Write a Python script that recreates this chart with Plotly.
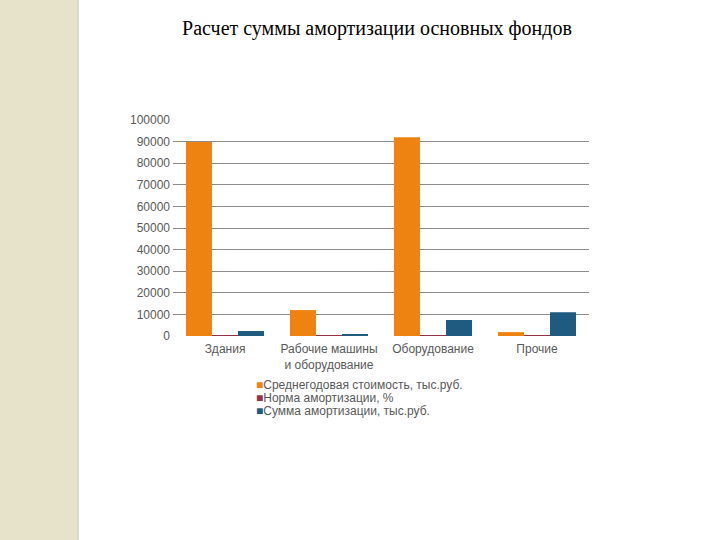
import plotly.graph_objects as go

categories = ["Здания", "Рабочие машины<br>и оборудование", "Оборудование", "Прочие"]
series_names = ["Среднегодовая стоимость, тыс.руб.", "Норма амортизации, %", "Сумма амортизации, тыс.руб."]
avg_cost = [89800, 12000, 92000, 1800]
norm_pct = [2.5, 6.7, 8.0, 10.0]
amort_sum = [2300, 800, 7400, 11000]
series_values = [avg_cost, norm_pct, amort_sum]
colors = ["#EE8311", "#953245", "#1F5A80"]
y_ticks = [0, 10000, 20000, 30000, 40000, 50000, 60000, 70000, 80000, 90000, 100000]
title_text = "Расчет суммы амортизации основных фондов"

W, H = 720, 540
L, R, T, B = 173, 589, 120, 336

def px_x(p):
    return (p - L) / (R - L)

def px_y(p):
    return (B - p) / (B - T)

fig = go.Figure()
for name, vals, col in zip(series_names, series_values, colors):
    fig.add_trace(go.Bar(x=categories, y=vals, name=name, marker_color=col,
                         marker_line_width=0, showlegend=False))

# invisible trace to carry the inner gridlines on an overlay axis
fig.add_trace(go.Scatter(x=categories, y=[None]*4, yaxis="y2", showlegend=False, hoverinfo="skip"))

fig.update_layout(
    width=W, height=H,
    margin=dict(l=L, r=W - R, t=T, b=H - B),
    paper_bgcolor="white", plot_bgcolor="rgba(0,0,0,0)",
    barmode="group", bargap=0.25, bargroupgap=0,
    font=dict(family="Liberation Sans, Arial", size=12, color="#595959"),
    title=dict(text=title_text, x=377 / W, xref="container", xanchor="center",
               y=1 - 28 / H, yref="container", yanchor="middle",
               font=dict(family="Liberation Serif, Times New Roman", size=20, color="black")),
    xaxis=dict(showgrid=False, showline=False, zeroline=False, ticks="",
               ticklabelstandoff=4,
               tickfont=dict(size=12, color="#595959")),
    yaxis=dict(range=[0, 100000], tickvals=y_ticks, ticktext=[str(v) for v in y_ticks],
               showgrid=False, zeroline=False, showline=False, ticks="",
               ticklabelstandoff=2,
               tickfont=dict(size=12, color="#595959")),
    yaxis2=dict(range=[0, 100000], overlaying="y", tickvals=y_ticks[1:-1],
                showticklabels=False, showgrid=True, gridcolor="#8C8C8C", gridwidth=1,
                zeroline=False, showline=False, layer="below traces"),
)

# decorative beige strip on the left
fig.add_shape(type="rect", xref="paper", yref="paper",
              x0=px_x(0), x1=px_x(77), y0=px_y(H), y1=px_y(0),
              fillcolor="#E7E3CB", line_width=0, layer="below")
fig.add_shape(type="line", xref="paper", yref="paper",
              x0=px_x(78), x1=px_x(78), y0=px_y(H), y1=px_y(0),
              line=dict(color="#D9D9CF", width=2), layer="below")

# legend built from the series names and colours
legend_x = 254
legend_y0 = 385
for i, (name, col) in enumerate(zip(series_names, colors)):
    fig.add_annotation(xref="paper", yref="paper", x=px_x(legend_x), y=px_y(legend_y0 + 13 * i),
                       xanchor="left", yanchor="middle", showarrow=False,
                       text=f"<span style='color:{col}'>■</span>{name}",
                       font=dict(size=12, color="#595959"))

fig.write_html("out.html")
